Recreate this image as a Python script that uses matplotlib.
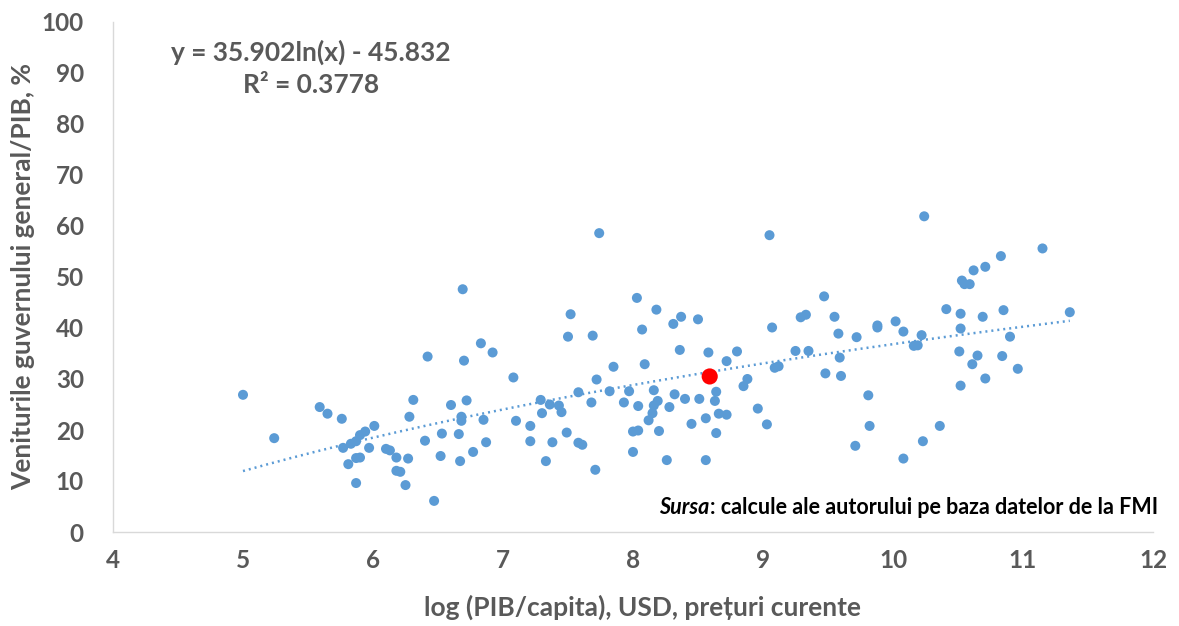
import numpy as np
import matplotlib
matplotlib.use("Agg")
import matplotlib.pyplot as plt

# log(GDP/capita) and general government revenue / GDP (%)
log_gdp = [5.00, 5.24, 5.59, 5.65, 5.76, 6.01, 5.94, 5.90, 5.87, 5.83, 5.77, 5.97, 5.81, 5.87, 5.90,
           5.87, 6.10, 6.13, 6.18, 6.27, 6.18, 6.21, 6.25, 6.31, 6.28, 6.40, 6.47, 6.52, 6.53, 6.69,
           6.42, 6.70, 6.83, 6.92, 7.08, 7.52, 7.50, 7.69, 8.03, 7.85, 7.72, 7.58, 7.82, 7.97, 7.68,
           7.93, 8.04, 7.29, 7.36, 7.43, 7.45, 7.30, 6.60, 6.72, 6.68, 6.68, 6.85, 7.10, 7.21, 6.66,
           6.87, 7.21, 7.38, 7.49, 7.58, 7.61, 8.00, 8.04, 8.00, 6.67, 6.77, 7.33, 7.71, 7.74, 8.18,
           8.37, 8.31, 8.50, 8.07, 8.36, 8.58, 8.80, 8.72, 8.09, 8.88, 8.85, 8.16, 8.32, 8.40,
           8.51, 8.64, 8.63, 8.19, 8.16, 8.28, 8.15, 8.12, 8.66, 8.72, 8.56, 8.45, 8.96, 8.20, 8.64,
           8.26, 8.56, 9.05, 10.24, 9.47, 9.29, 9.33, 9.55, 9.07, 9.58, 9.72, 9.88, 9.88, 10.02, 10.08,
           10.22, 10.16, 10.19, 10.41, 9.25, 9.35, 9.59, 9.09, 9.12, 9.48, 9.60, 9.81, 9.03, 9.82,
           9.71, 10.36, 10.23, 10.08, 11.15, 10.83, 10.71, 10.62, 10.53, 10.55, 10.59, 10.52, 10.69,
           10.85, 11.36, 10.52, 10.90, 10.51, 10.65, 10.84, 10.61, 10.96, 10.71, 10.52]
revenue = [26.9, 18.4, 24.5, 23.2, 22.2, 20.8, 19.7, 19.0, 17.8, 17.3, 16.5, 16.5, 13.3, 14.5, 14.6,
           9.6, 16.3, 16.0, 14.6, 14.4, 12.0, 11.8, 9.2, 25.9, 22.6, 17.9, 6.1, 14.9, 19.3, 47.6,
           34.4, 33.6, 37.0, 35.2, 30.3, 42.7, 38.3, 38.5, 45.9, 32.4, 29.9, 27.4, 27.6, 27.6, 25.4,
           25.4, 24.7, 25.9, 25.0, 24.8, 23.5, 23.3, 24.9, 25.8, 22.6, 21.8, 22.0, 21.8, 20.8, 19.2,
           17.6, 17.8, 17.6, 19.5, 17.5, 17.1, 19.7, 19.9, 15.7, 13.9, 15.7, 13.9, 12.2, 58.6, 43.6,
           42.2, 40.8, 41.7, 39.7, 35.7, 35.2, 35.4, 33.5, 32.9, 30.0, 28.6, 27.8, 27.0, 26.1,
           26.1, 27.5, 25.7, 25.7, 24.8, 24.5, 23.3, 21.9, 23.2, 23.0, 22.3, 21.2, 24.2, 19.8, 19.4,
           14.1, 14.1, 58.2, 61.9, 46.2, 42.1, 42.6, 42.2, 40.1, 38.9, 38.2, 40.5, 40.1, 41.3, 39.3,
           38.6, 36.5, 36.6, 43.7, 35.5, 35.5, 34.2, 32.2, 32.5, 31.1, 30.6, 26.8, 21.1, 20.8,
           16.9, 20.8, 17.8, 14.4, 55.6, 54.1, 52.0, 51.3, 49.3, 48.6, 48.6, 42.8, 42.2,
           43.5, 43.1, 39.9, 38.3, 35.4, 34.6, 34.5, 32.9, 32.0, 30.1, 28.7]

# highlighted country (Romania)
highlight_x = [8.59]
highlight_y = [30.5]

# trendline coefficients y = a*ln(x) + b
trend_a = 35.902
trend_b = -45.832
eq_text = "y = 35.902ln(x) - 45.832"
r2_text = "R² = 0.3778"

x_ticks = [4, 5, 6, 7, 8, 9, 10, 11, 12]
y_ticks = [0, 10, 20, 30, 40, 50, 60, 70, 80, 90, 100]

BLUE = "#5B9BD5"
GRAY = "#595959"
plt.rcParams["font.family"] = ["Lato", "DejaVu Sans"]
plt.rcParams["font.weight"] = "bold"

W, H = 1179, 626
fig = plt.figure(figsize=(W / 100, H / 100), dpi=100)
ax = fig.add_axes([113 / W, 94 / H, 1040 / W, 510 / H])

tx = np.linspace(min(log_gdp), max(log_gdp), 200)
ax.plot(tx, trend_a * np.log(tx) + trend_b, color=BLUE, lw=1.8,
        linestyle=(0, (0.8, 1.6)), dash_capstyle="butt", zorder=3)

ax.scatter(log_gdp, revenue, s=52, color=BLUE, edgecolors="none", zorder=2)
ax.scatter(highlight_x, highlight_y, s=135, color="#FF0000", edgecolors="none", zorder=4)

ax.set_xlim(4, 12)
ax.set_ylim(0, 100)
ax.set_xticks(x_ticks)
ax.set_yticks(y_ticks)
ax.tick_params(length=0, labelsize=17.5, labelcolor=GRAY)
ax.tick_params(axis="y", pad=21)
ax.tick_params(axis="x", pad=12)

for s in ["top", "right"]:
    ax.spines[s].set_visible(False)
for s in ["left", "bottom"]:
    ax.spines[s].set_color("#D9D9D9")
    ax.spines[s].set_linewidth(1.0)

ax.set_xlabel("log (PIB/capita), USD, prețuri curente", fontsize=19, fontweight="bold",
              color=GRAY)
ax.set_ylabel("Veniturile guvernului general/PIB, %", fontsize=19, fontweight="bold",
              color=GRAY)
ax.xaxis.set_label_coords((642 - 113) / 1040, -(595 - 532) / 510)
ax.yaxis.set_label_coords(-(113 - 35) / 1040, 0.5)

ax.text((311 - 113) / 1040, (532 - 52) / 510, eq_text, transform=ax.transAxes,
        ha="center", va="center", fontsize=19, fontweight="bold", color=GRAY)
ax.text((311 - 113) / 1040, (532 - 85) / 510, r2_text, transform=ax.transAxes,
        ha="center", va="center", fontsize=19, fontweight="bold", color=GRAY)

# source note, right-aligned
yy = (H - 507) / H
t2 = fig.text(1158 / W, yy, ": calcule ale autorului pe baza datelor de la FMI",
              ha="right", va="center", fontsize=15.5, fontweight="bold", color="black")
fig.canvas.draw()
bb = t2.get_window_extent(renderer=fig.canvas.get_renderer())
fig.text(bb.x0 / fig.bbox.width, yy, "Sursa", ha="right", va="center",
         fontsize=15.5, fontweight="bold", fontstyle="italic", color="black")

fig.savefig("out.png", dpi=100)
